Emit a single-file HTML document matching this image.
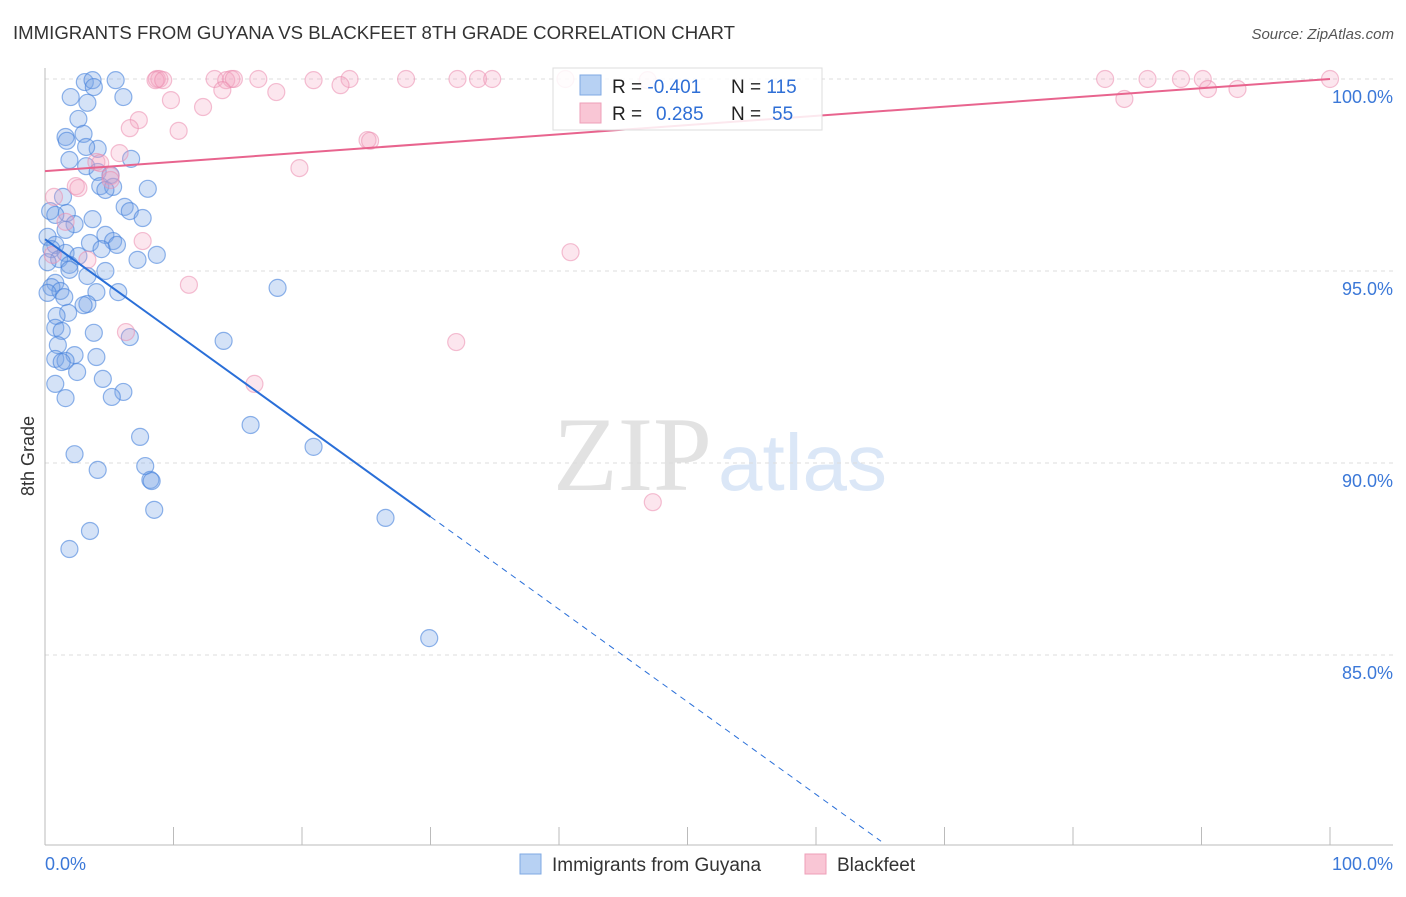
<!DOCTYPE html>
<html><head><meta charset="utf-8">
<style>
html,body{margin:0;padding:0;background:#fff;}
body{width:1406px;height:892px;overflow:hidden;font-family:"Liberation Sans",sans-serif;}
</style></head>
<body>
<svg id="chart" width="1406" height="892" xmlns="http://www.w3.org/2000/svg" font-family="Liberation Sans, sans-serif">
<text x="13" y="39" font-size="18" fill="#333" textLength="722" lengthAdjust="spacingAndGlyphs">IMMIGRANTS FROM GUYANA VS BLACKFEET 8TH GRADE CORRELATION CHART</text>
<text x="1394" y="39" font-size="15" fill="#555" font-style="italic" text-anchor="end">Source: ZipAtlas.com</text>
<g>
<text x="553" y="490" font-size="106" font-family="Liberation Serif, serif" fill="#e2e2e2">ZIP</text>
<text x="718" y="490" font-size="80" fill="#dbe7f7">atlas</text>
</g>
<text transform="translate(34,456) rotate(-90)" font-size="18" fill="#333" text-anchor="middle">8th Grade</text>
<g id="grid"></g>
<g id="axes"></g>
<g id="pts"></g>
<g id="lines"></g>
<g>
<rect x="553" y="68" width="269" height="62" fill="rgba(255,255,255,0.85)" stroke="#ddd"/>
<rect x="580" y="75" width="21" height="20" fill="#b7d1f3" stroke="#7fa9e3"/>
<rect x="580" y="103" width="21" height="20" fill="#f9c6d5" stroke="#ee9fb8"/>
<text x="612" y="93" font-size="19" fill="#222">R = <tspan fill="#2f6fd6">-0.401</tspan></text>
<text x="731" y="93" font-size="19" fill="#222">N = <tspan fill="#2f6fd6">115</tspan></text>
<text x="612" y="120" font-size="19" fill="#222">R = <tspan fill="#2f6fd6" x="656">0.285</tspan></text>
<text x="731" y="120" font-size="19" fill="#222">N = <tspan fill="#2f6fd6" x="772">55</tspan></text>
</g>
<g>
<rect x="520" y="854" width="21" height="20" fill="#b7d1f3" stroke="#7fa9e3"/>
<text x="552" y="871" font-size="19" fill="#333">Immigrants from Guyana</text>
<rect x="805" y="854" width="21" height="20" fill="#f9c6d5" stroke="#ee9fb8"/>
<text x="837" y="871" font-size="19" fill="#333">Blackfeet</text>
</g>
</svg>
<script>
const yTicks=[100,95,90,85];
const xTickVals=[0,10,20,30,40,50,60,70,80,90,100];
const blueX=[3.1,3.7,5.5,3.8,2.0,6.1,3.3,2.6,1.6,3.0,1.7,4.1,3.2,1.9,6.7,3.2,4.1,5.1,4.3,5.3,4.7,8.0,1.4,6.2,6.6,0.4,1.7,7.6,3.7,0.8,2.3,1.6,4.7,0.2,3.5,5.3,5.6,0.8,4.4,0.5,1.6,2.6,8.7,7.2,1.1,0.2,1.9,1.9,4.7,3.3,0.8,0.5,1.2,18.1,5.7,0.2,4.0,1.5,3.3,3.0,1.8,0.9,0.8,1.3,3.8,6.6,13.9,1.0,2.3,0.8,4.0,1.6,1.3,2.5,4.5,0.8,6.1,5.2,1.6,16.0,7.4,20.9,2.3,7.8,4.1,8.2,8.3,8.5,26.5,3.5,1.9,29.9];
const blueY=[99.92,99.97,99.97,99.79,99.53,99.53,99.38,98.96,98.49,98.57,98.39,98.18,98.23,97.89,97.92,97.73,97.58,97.50,97.21,97.19,97.11,97.14,96.93,96.67,96.56,96.56,96.51,96.38,96.35,96.46,96.22,96.07,95.94,95.89,95.73,95.78,95.68,95.68,95.57,95.57,95.47,95.39,95.42,95.29,95.31,95.23,95.16,95.03,95.00,94.87,94.69,94.58,94.48,94.56,94.45,94.43,94.45,94.32,94.14,94.11,93.91,93.83,93.52,93.44,93.39,93.28,93.18,93.07,92.81,92.71,92.76,92.66,92.63,92.37,92.19,92.06,91.85,91.72,91.69,90.99,90.68,90.42,90.23,89.92,89.82,89.56,89.53,88.78,88.57,88.23,87.76,85.44];
const pinkX=[8.7,8.9,8.6,9.2,13.2,14.1,14.5,14.7,16.6,20.9,23.7,28.1,32.1,33.7,34.8,40.5,46.9,82.5,85.8,88.4,90.1,100,13.8,18.0,23.0,90.5,92.8,84.0,9.8,12.3,7.3,6.6,10.4,25.1,25.3,5.8,4.0,19.8,5.1,2.4,0.7,2.6,5.1,1.6,7.6,0.6,3.3,40.9,11.2,6.3,32.0,16.3,47.3,4.3];
const pinkY=[100,100,99.97,99.97,100,99.97,100,100,100,99.97,100,100,100,100,100,100,99.97,100,100,100,100,100,99.71,99.66,99.84,99.74,99.74,99.48,99.45,99.27,98.93,98.72,98.65,98.41,98.39,98.07,97.84,97.68,97.47,97.21,96.93,97.16,97.37,96.28,95.78,95.42,95.29,95.49,94.64,93.41,93.15,92.06,88.98,97.81];
const blueTrend=[95.83,-0.241];
const pinkTrend=[97.6,100];
const NS="http://www.w3.org/2000/svg";
const X=v=>45+v*12.85, Y=v=>79+(100-v)*38.4;
function mk(t,a,p){const e=document.createElementNS(NS,t);for(const k in a)e.setAttribute(k,a[k]);p.appendChild(e);return e;}
const grid=document.getElementById('grid'),axes=document.getElementById('axes'),pts=document.getElementById('pts'),lines=document.getElementById('lines');
yTicks.forEach(t=>{
 const l=mk('line',{x1:45,x2:1393,y1:Y(t),y2:Y(t),stroke:'#dcdcdc','stroke-dasharray':'4,4'},grid);
 
 
 const tx=mk('text',{x:1393,y:Y(t)+24,'font-size':18,fill:'#3b78d8','text-anchor':'end'},axes);
 tx.textContent=t.toFixed(1)+'%';
 
 
});
const ax=mk('line',{x1:45,x2:1393,y1:845,y2:845,stroke:'#bbb'},axes);


const ay=mk('line',{x1:45,x2:45,y1:68,y2:845,stroke:'#bbb'},axes);


xTickVals.forEach(t=>{
 const k=mk('line',{x1:X(t),x2:X(t),y1:827,y2:845,stroke:'#bbb'},axes);
 
 
});
[[0,'start',45],[100,'end',1393]].forEach(([v,a,x])=>{
 const tx=mk('text',{x:x,y:870,'font-size':18,fill:'#3b78d8','text-anchor':a},axes);
 tx.textContent=v.toFixed(1)+'%';
 
 
});
blueX.forEach((v,i)=>{
 const c=mk('circle',{cx:X(v),cy:Y(blueY[i]),r:8.5,fill:'rgba(120,165,230,0.32)',stroke:'rgba(70,130,220,0.6)','stroke-width':1.2},pts);
 
 
});
pinkX.forEach((v,i)=>{
 const c=mk('circle',{cx:X(v),cy:Y(pinkY[i]),r:8.5,fill:'rgba(245,165,195,0.28)',stroke:'rgba(235,140,175,0.55)','stroke-width':1.2},pts);
 
 
});
const bEnd=(blueTrend[0]-80.15)/-blueTrend[1];
const b1=mk('line',{x1:X(0),y1:Y(blueTrend[0]),x2:X(30),y2:Y(blueTrend[0]+30*blueTrend[1]),stroke:'#2a6fd8','stroke-width':2},lines);


const b2=mk('line',{x1:X(30),y1:Y(blueTrend[0]+30*blueTrend[1]),x2:X(bEnd),y2:Y(80.15),stroke:'#2a6fd8','stroke-width':1,'stroke-dasharray':'6,5'},lines);


const p1=mk('line',{x1:X(0),y1:Y(pinkTrend[0]),x2:X(100),y2:Y(pinkTrend[1]),stroke:'#e8648e','stroke-width':2},lines);


</script>
</body></html>
